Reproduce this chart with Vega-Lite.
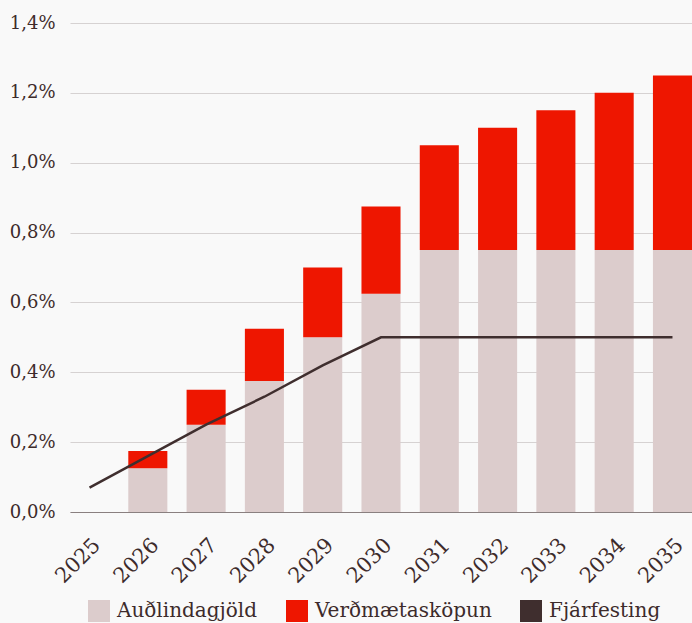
{
  "$schema": "https://vega.github.io/schema/vega-lite/v6.json",
  "autosize": "none",
  "width": 622,
  "height": 489,
  "padding": {"left": 70, "top": 23, "right": 0, "bottom": 111},
  "background": "#f9f9f9",
  "config": {
    "locale": {"number": {"decimal": ",", "thousands": ".", "grouping": [3], "currency": ["", " kr."]}},
    "font": "DejaVu Serif",
    "view": {"stroke": null},
    "axis": {"labelColor": "#3d2b2b", "labelFont": "DejaVu Serif", "titleColor": "#3d2b2b"},
    "legend": {"labelColor": "#3d2b2b", "labelFont": "DejaVu Serif"}
  },
  "data": {
    "values": [
      {"year": "2025", "series": "Auðlindagjöld", "value": 0},
      {"year": "2026", "series": "Auðlindagjöld", "value": 0.125},
      {"year": "2027", "series": "Auðlindagjöld", "value": 0.25},
      {"year": "2028", "series": "Auðlindagjöld", "value": 0.375},
      {"year": "2029", "series": "Auðlindagjöld", "value": 0.5},
      {"year": "2030", "series": "Auðlindagjöld", "value": 0.625},
      {"year": "2031", "series": "Auðlindagjöld", "value": 0.75},
      {"year": "2032", "series": "Auðlindagjöld", "value": 0.75},
      {"year": "2033", "series": "Auðlindagjöld", "value": 0.75},
      {"year": "2034", "series": "Auðlindagjöld", "value": 0.75},
      {"year": "2035", "series": "Auðlindagjöld", "value": 0.75},
      {"year": "2025", "series": "Verðmætasköpun", "value": 0},
      {"year": "2026", "series": "Verðmætasköpun", "value": 0.05},
      {"year": "2027", "series": "Verðmætasköpun", "value": 0.1},
      {"year": "2028", "series": "Verðmætasköpun", "value": 0.15},
      {"year": "2029", "series": "Verðmætasköpun", "value": 0.2},
      {"year": "2030", "series": "Verðmætasköpun", "value": 0.25},
      {"year": "2031", "series": "Verðmætasköpun", "value": 0.3},
      {"year": "2032", "series": "Verðmætasköpun", "value": 0.35},
      {"year": "2033", "series": "Verðmætasköpun", "value": 0.4},
      {"year": "2034", "series": "Verðmætasköpun", "value": 0.45},
      {"year": "2035", "series": "Verðmætasköpun", "value": 0.5},
      {"year": "2025", "series": "Fjárfesting", "value": 0.07},
      {"year": "2026", "series": "Fjárfesting", "value": 0.16},
      {"year": "2027", "series": "Fjárfesting", "value": 0.25},
      {"year": "2028", "series": "Fjárfesting", "value": 0.33},
      {"year": "2029", "series": "Fjárfesting", "value": 0.42},
      {"year": "2030", "series": "Fjárfesting", "value": 0.5},
      {"year": "2031", "series": "Fjárfesting", "value": 0.5},
      {"year": "2032", "series": "Fjárfesting", "value": 0.5},
      {"year": "2033", "series": "Fjárfesting", "value": 0.5},
      {"year": "2034", "series": "Fjárfesting", "value": 0.5},
      {"year": "2035", "series": "Fjárfesting", "value": 0.5}
    ]
  },
  "encoding": {
    "x": {
      "field": "year", "type": "ordinal", "title": null,
      "scale": {"paddingInner": 0.33, "paddingOuter": 0},
      "axis": {"labelAngle": -45, "labelFontSize": 21, "ticks": false, "labelPadding": 22, "domainColor": "#8a8080", "domainWidth": 1.2}
    },
    "color": {
      "field": "series", "type": "nominal", "title": null,
      "scale": {"domain": ["Auðlindagjöld", "Verðmætasköpun", "Fjárfesting"], "range": ["#dccccc", "#ee1600", "#3f2e2e"]},
      "legend": {"orient": "none", "legendX": 18, "legendY": 577, "direction": "horizontal", "symbolType": "square", "symbolSize": 484, "symbolOpacity": 1, "symbolStrokeWidth": 0, "labelFontSize": 20, "labelLimit": 400, "columnPadding": 28, "labelOffset": 7}
    }
  },
  "layer": [
    {
      "transform": [{"filter": "datum.series !== 'Fjárfesting'"}],
      "mark": {"type": "bar"},
      "encoding": {
        "y": {
          "field": "value", "type": "quantitative", "stack": "zero", "title": null,
          "scale": {"domain": [0, 1.4]},
          "axis": {"labelExpr": "format(datum.value, '.1f') + '%'", "values": [0, 0.2, 0.4, 0.6, 0.8, 1.0, 1.2, 1.4], "labelFontSize": 18, "domain": false, "ticks": false, "labelPadding": 15, "gridColor": "#d6d2d2", "gridWidth": 1.2}
        },
        "order": {"field": "series", "sort": "ascending"}
      }
    },
    {
      "transform": [{"filter": "datum.series === 'Fjárfesting'"}],
      "mark": {"type": "line", "strokeWidth": 2.5},
      "encoding": {
        "y": {"field": "value", "type": "quantitative"}
      }
    }
  ]
}
